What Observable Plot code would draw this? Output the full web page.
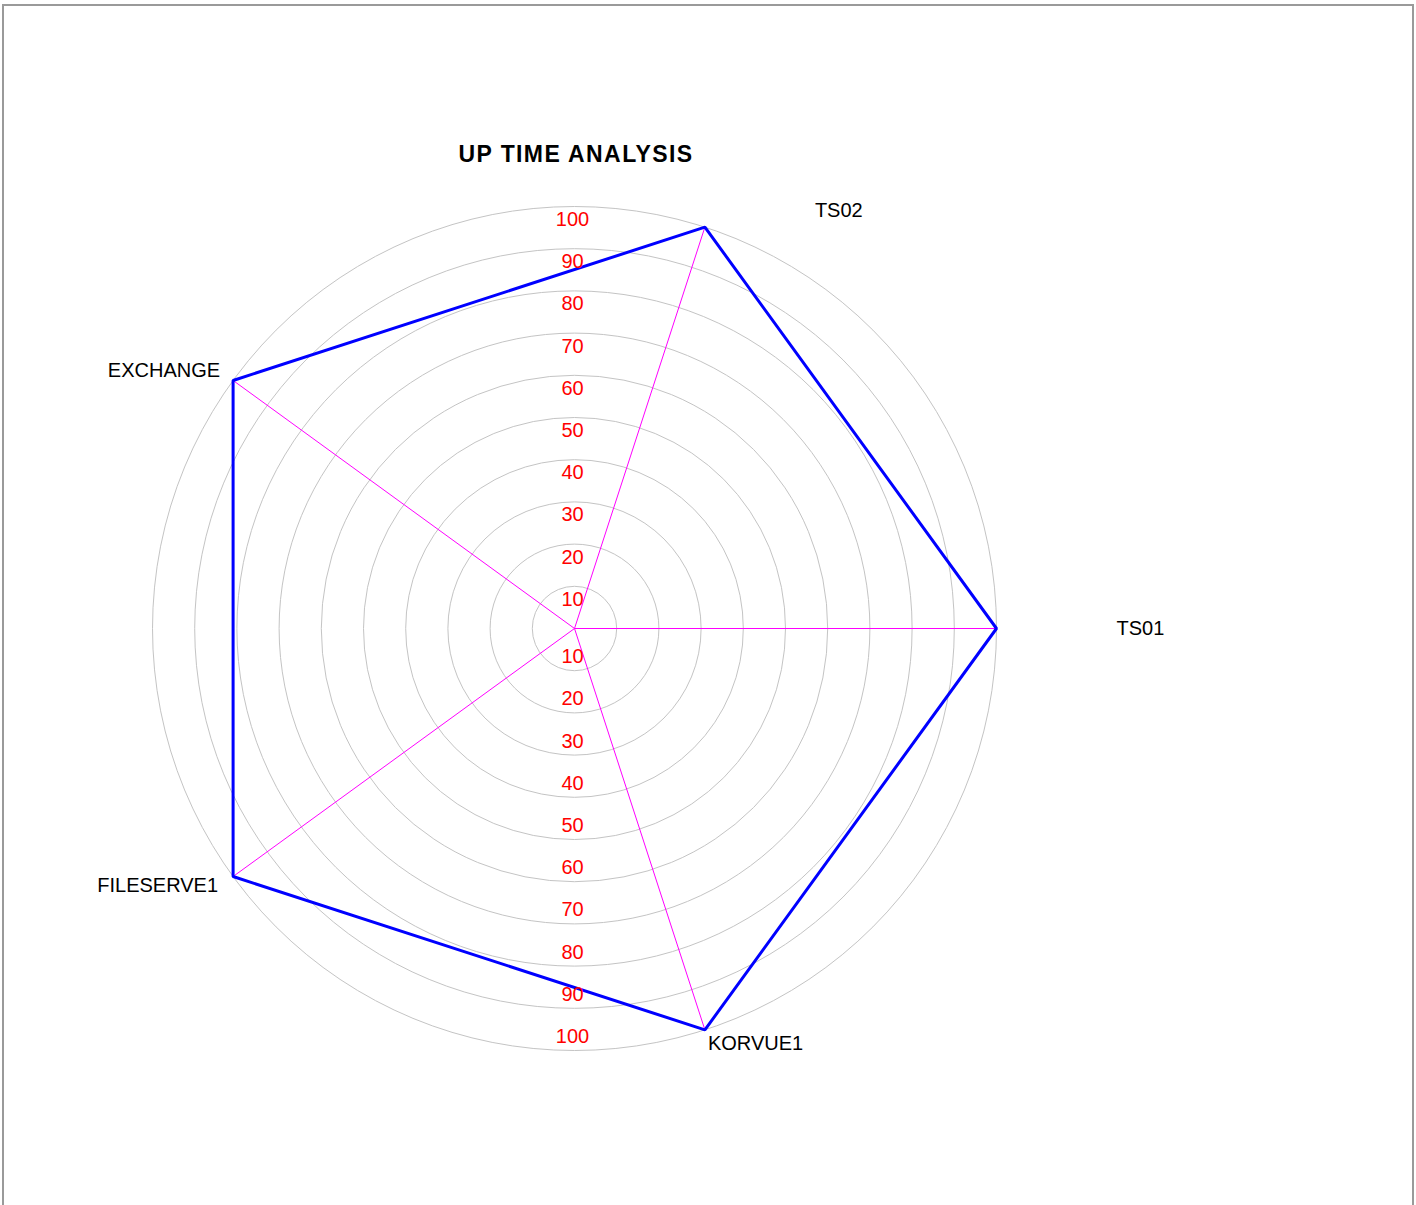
<!DOCTYPE html>
<html><head><meta charset="utf-8">
<script src="https://cdn.jsdelivr.net/npm/d3@7"></script>
<script src="https://cdn.jsdelivr.net/npm/@observablehq/plot@0.6"></script>
<style>
html,body{margin:0;padding:0;background:#fff;}
#wrap{position:relative;width:1416px;height:1205px;overflow:hidden;}
#frame{position:absolute;left:2px;top:4px;width:1408px;height:1240px;border:2px solid #9a9a9a;border-bottom:none;}
#title{position:absolute;left:0;width:1152px;top:143px;text-align:center;font:bold 23px "Liberation Sans",Arial,sans-serif;letter-spacing:1.4px;line-height:23px;color:#000;}
#chart{position:absolute;left:0;top:0;}
</style>
</head><body>
<div id="wrap"><div id="chart"></div><div id="frame"></div><div id="title">UP TIME ANALYSIS</div></div>
<script>
const categories = ["TS01", "TS02", "EXCHANGE", "FILESERVE1", "KORVUE1"];
const uptime = [100, 100, 100, 100, 100];
const ringTicks = [10, 20, 30, 40, 50, 60, 70, 80, 90, 100];

const W = 1416, H = 1205, CX = 574, CY = 628, K = 4.22; // px per unit
const rows = categories.map((name, i) => {
  const a = i * 2 * Math.PI / categories.length;
  return {name, value: uptime[i], x: uptime[i] * Math.cos(a), y: uptime[i] * Math.sin(a),
          ox: 100 * Math.cos(a), oy: 100 * Math.sin(a)};
});
// label placement tweaks (px)
const labelStyle = {
  "TS01": {dx: 120, dy: 0, anchor: "start"},
  "TS02": {dx: 110, dy: -17, anchor: "start"},
  "EXCHANGE": {dx: -13, dy: -10, anchor: "end"},
  "FILESERVE1": {dx: -15, dy: 9, anchor: "end"},
  "KORVUE1": {dx: 3, dy: 14, anchor: "start"}
};
const font = '"Liberation Sans", Arial, sans-serif';

const plot = Plot.plot({
  width: W, height: H, margin: 0,
  x: {domain: [-CX / K, (W - CX) / K], range: [0, W], axis: null},
  y: {domain: [-(H - CY) / K, CY / K], range: [H, 0], axis: null},
  r: {type: "identity"},
  style: {fontFamily: font, background: "transparent"},
  marks: [
    Plot.dot(ringTicks, {x: () => 0, y: () => 0, r: d => d * K, stroke: "#c4c4c4", fill: "none", strokeWidth: 1}),
    Plot.link(rows, {x1: () => 0, y1: () => 0, x2: "ox", y2: "oy", stroke: "#ff00ff", strokeWidth: 1}),
    Plot.line(rows, {x: "x", y: "y", curve: "linear-closed", stroke: "#0000ff", strokeWidth: 3, strokeLinejoin: "miter"}),
    Plot.text(ringTicks, {x: () => 0, y: d => d, text: d => String(d), dx: -2, dy: 13, fill: "#ff0000", fontSize: 20}),
    Plot.text(ringTicks, {x: () => 0, y: d => -d, text: d => String(d), dx: -2, dy: -14, fill: "#ff0000", fontSize: 20}),
    ...rows.map(r => {
      const s = labelStyle[r.name];
      return Plot.text([r], {x: "ox", y: "oy", text: "name", dx: s.dx, dy: s.dy, textAnchor: s.anchor, fill: "#000", fontSize: 20});
    })
  ]
});
document.getElementById("chart").appendChild(plot);
</script>
</body></html>
